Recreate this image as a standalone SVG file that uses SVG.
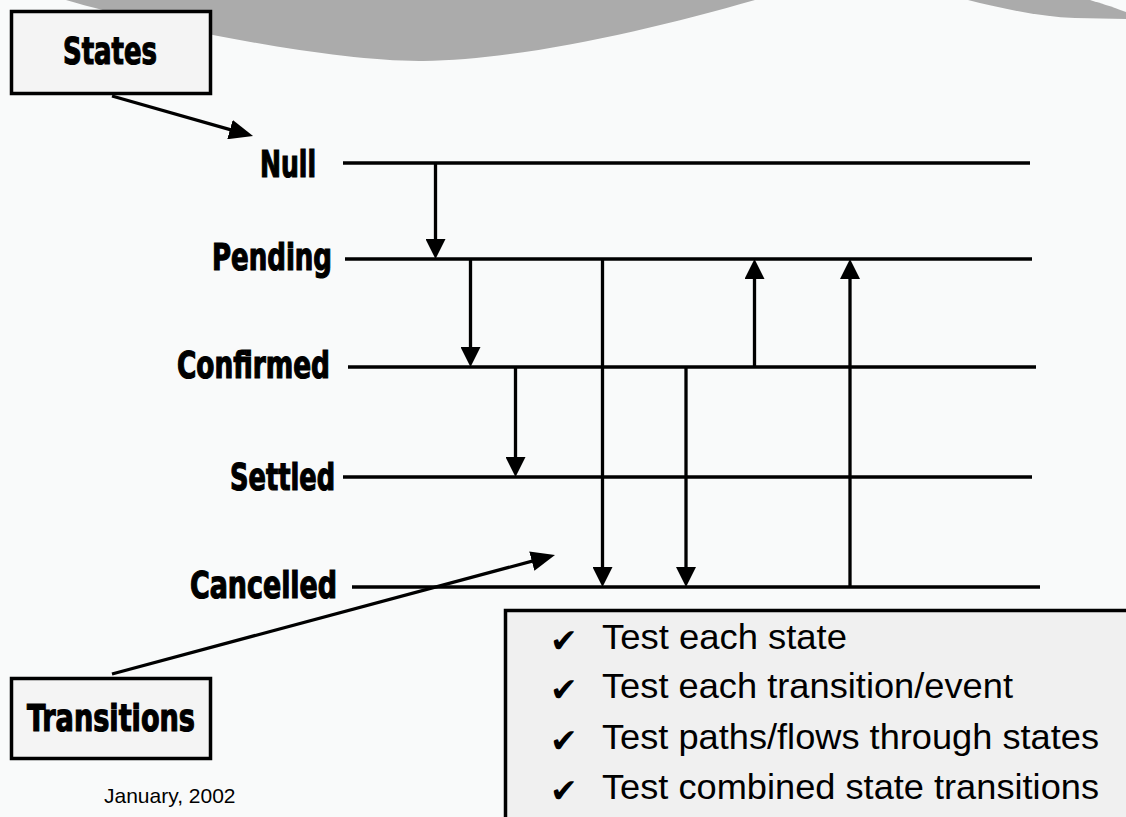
<svg xmlns="http://www.w3.org/2000/svg" width="1126" height="817" viewBox="0 0 1126 817">
<defs>
<style>
.st{font-family:"DejaVu Sans Condensed","DejaVu Sans",sans-serif;font-weight:bold;font-size:38px;font-stretch:condensed;fill:#000;stroke:#000;stroke-width:1.2px}
.bul{font-family:"Liberation Sans",Arial,sans-serif;font-size:35px;fill:#000}
.chk{font-family:"DejaVu Sans",sans-serif;font-size:33px;fill:#000}
.lvl{stroke:#000;stroke-width:3.5;fill:none}
.tr{stroke:#000;stroke-width:3.3;fill:none}
.box{stroke:#000;stroke-width:3.5}
</style>
<marker id="ah" markerUnits="userSpaceOnUse" markerWidth="20" markerHeight="20" refX="10" refY="10" orient="auto">
<path d="M0,0 L20,10 L0,20 Z" fill="#000"/>
</marker>
<marker id="ah2" markerUnits="userSpaceOnUse" markerWidth="24" markerHeight="20" refX="12" refY="10" orient="auto">
<path d="M0,0 L24,10 L0,20 Z" fill="#000"/>
</marker>
</defs>
<rect x="0" y="0" width="1126" height="817" fill="#f9fafa"/>
<g id="wave" fill="#ababab">
<path d="M66,0 C150,25 330,62 423,61 C520,60 650,30 755,0 Z"/>
<path d="M968,0 C1000,8 1040,17 1075,18 L1126,19 L1126,12 C1110,6 1100,3 1090,0 Z"/>
</g>
<g id="connectors">
<line class="lvl" x1="343" y1="163" x2="1030" y2="163"/>
<line class="lvl" x1="345" y1="259" x2="1032" y2="259"/>
<line class="lvl" x1="348" y1="367" x2="1036" y2="367"/>
<line class="lvl" x1="343" y1="477" x2="1032" y2="477"/>
<line class="lvl" x1="352" y1="587" x2="1040" y2="587"/>
<line class="tr" x1="435.5" y1="163" x2="435.5" y2="249" marker-end="url(#ah)"/>
<line class="tr" x1="470.5" y1="259" x2="470.5" y2="357" marker-end="url(#ah)"/>
<line class="tr" x1="515.5" y1="367" x2="515.5" y2="467" marker-end="url(#ah)"/>
<line class="tr" x1="602.5" y1="259" x2="602.5" y2="577" marker-end="url(#ah)"/>
<line class="tr" x1="686" y1="367" x2="686" y2="577" marker-end="url(#ah)"/>
<line class="tr" x1="754.5" y1="367" x2="754.5" y2="269" marker-end="url(#ah)"/>
<line class="tr" x1="850" y1="587" x2="850" y2="269" marker-end="url(#ah)"/>
<line class="tr" x1="112" y1="96" x2="241.5" y2="132.8" marker-end="url(#ah2)"/>
<line class="tr" x1="112" y1="674" x2="543.4" y2="558.1" marker-end="url(#ah2)"/>
</g>
<g id="states-box">
<rect class="box" x="11.5" y="11.5" width="199" height="82" fill="#f4f4f4"/>
<text class="st" x="63" y="64" textLength="94" lengthAdjust="spacingAndGlyphs">States</text>
</g>
<g id="transitions-box">
<rect class="box" x="11.5" y="678.5" width="199" height="80" fill="#f4f4f4"/>
<text class="st" x="27" y="731" textLength="168" lengthAdjust="spacingAndGlyphs">Transitions</text>
</g>
<g id="state-null"><text class="st" x="260" y="177" textLength="56" lengthAdjust="spacingAndGlyphs">Null</text></g>
<g id="state-pending"><text class="st" x="212" y="270" textLength="120" lengthAdjust="spacingAndGlyphs">Pending</text></g>
<g id="state-confirmed"><text class="st" x="177" y="378" textLength="153" lengthAdjust="spacingAndGlyphs">Confirmed</text></g>
<g id="state-settled"><text class="st" x="230" y="490" textLength="105" lengthAdjust="spacingAndGlyphs">Settled</text></g>
<g id="state-cancelled"><text class="st" x="190" y="598" textLength="147" lengthAdjust="spacingAndGlyphs">Cancelled</text></g>
<g id="bullets">
<rect class="box" x="505.5" y="610.5" width="640" height="230" fill="#f0f0f0"/>
<text class="chk" x="550" y="652">✔</text>
<text class="bul" x="602" y="649" textLength="245" lengthAdjust="spacingAndGlyphs">Test each state</text>
<text class="chk" x="550" y="701">✔</text>
<text class="bul" x="602" y="698" textLength="411" lengthAdjust="spacingAndGlyphs">Test each transition/event</text>
<text class="chk" x="550" y="752">✔</text>
<text class="bul" x="602" y="749" textLength="497" lengthAdjust="spacingAndGlyphs">Test paths/flows through states</text>
<text class="chk" x="550" y="802">✔</text>
<text class="bul" x="602" y="799" textLength="497" lengthAdjust="spacingAndGlyphs">Test combined state transitions</text>
</g>
<g id="footer">
<text x="104" y="803" font-family="'Liberation Sans',Arial,sans-serif" font-size="21" fill="#000">January, 2002</text>
</g>
</svg>
